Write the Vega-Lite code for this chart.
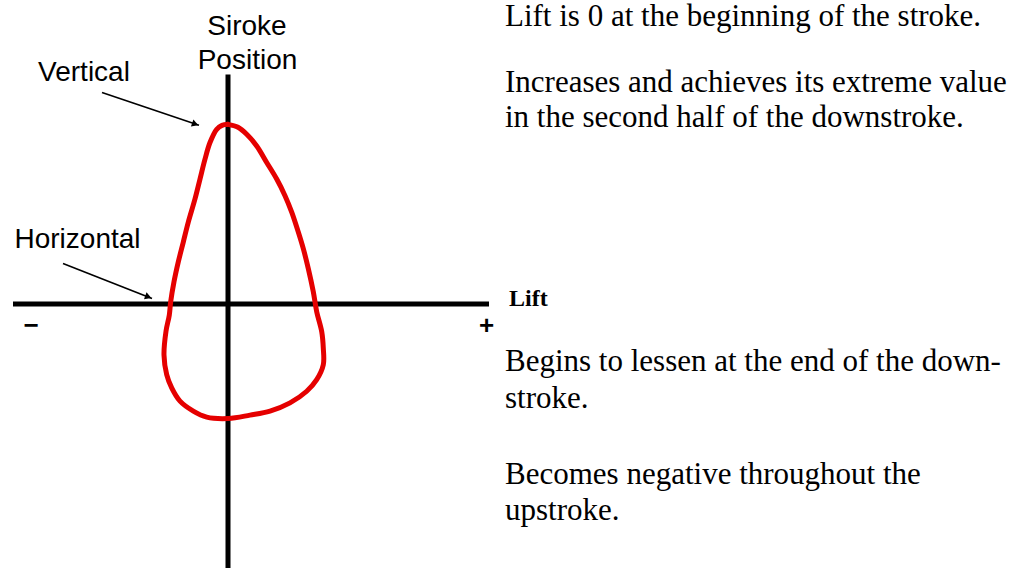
{
  "$schema": "https://vega.github.io/schema/vega-lite/v6.json",
  "width": 1027,
  "height": 571,
  "autosize": {"type": "fit", "contains": "padding"},
  "padding": 0,
  "background": "white",
  "config": {"view": {"stroke": null}},
  "datasets": {
    "loop": [
      {"i": 1, "lift": 0.0, "pos": 1.805},
      {"i": 2, "lift": 0.10, "pos": 1.775},
      {"i": 3, "lift": 0.187, "pos": 1.705},
      {"i": 4, "lift": 0.287, "pos": 1.588},
      {"i": 5, "lift": 0.387, "pos": 1.422},
      {"i": 6, "lift": 0.487, "pos": 1.255},
      {"i": 7, "lift": 0.57, "pos": 1.088},
      {"i": 8, "lift": 0.637, "pos": 0.922},
      {"i": 9, "lift": 0.703, "pos": 0.722},
      {"i": 10, "lift": 0.753, "pos": 0.555},
      {"i": 11, "lift": 0.803, "pos": 0.355},
      {"i": 12, "lift": 0.853, "pos": 0.122},
      {"i": 13, "lift": 0.887, "pos": -0.078},
      {"i": 14, "lift": 0.937, "pos": -0.278},
      {"i": 15, "lift": 0.953, "pos": -0.445},
      {"i": 16, "lift": 0.953, "pos": -0.612},
      {"i": 17, "lift": 0.887, "pos": -0.762},
      {"i": 18, "lift": 0.787, "pos": -0.878},
      {"i": 19, "lift": 0.62, "pos": -0.995},
      {"i": 20, "lift": 0.42, "pos": -1.078},
      {"i": 21, "lift": 0.22, "pos": -1.118},
      {"i": 22, "lift": 0.003, "pos": -1.152},
      {"i": 23, "lift": -0.213, "pos": -1.138},
      {"i": 24, "lift": -0.347, "pos": -1.078},
      {"i": 25, "lift": -0.48, "pos": -0.978},
      {"i": 26, "lift": -0.563, "pos": -0.845},
      {"i": 27, "lift": -0.613, "pos": -0.712},
      {"i": 28, "lift": -0.64, "pos": -0.515},
      {"i": 29, "lift": -0.62, "pos": -0.275},
      {"i": 30, "lift": -0.587, "pos": -0.112},
      {"i": 31, "lift": -0.573, "pos": 0.022},
      {"i": 32, "lift": -0.54, "pos": 0.222},
      {"i": 33, "lift": -0.497, "pos": 0.422},
      {"i": 34, "lift": -0.447, "pos": 0.622},
      {"i": 35, "lift": -0.397, "pos": 0.822},
      {"i": 36, "lift": -0.33, "pos": 1.055},
      {"i": 37, "lift": -0.28, "pos": 1.255},
      {"i": 38, "lift": -0.23, "pos": 1.455},
      {"i": 39, "lift": -0.18, "pos": 1.622},
      {"i": 40, "lift": -0.113, "pos": 1.755},
      {"i": 41, "lift": -0.06, "pos": 1.795},
      {"i": 42, "lift": 0.0, "pos": 1.805}
    ],
    "axes": [
      {"name": "lift", "x1": -2.15, "x2": 2.61, "y1": 0, "y2": 0},
      {"name": "position", "x1": 0, "x2": 0, "y1": 2.305, "y2": -2.655}
    ],
    "pointers": [
      {"name": "Vertical", "x1": -1.26, "y1": 2.125, "x2": -0.29, "y2": 1.795, "hx": -0.328, "hy": 1.808},
      {"name": "Horizontal", "x1": -1.65, "y1": 0.405, "x2": -0.76, "y2": 0.055, "hx": -0.797, "hy": 0.07}
    ],
    "sansLabels": [
      {"text": "Siroke", "x": 0.19, "y": 2.705},
      {"text": "Position", "x": 0.195, "y": 2.365},
      {"text": "Vertical", "x": -1.44, "y": 2.245},
      {"text": "Horizontal", "x": -1.505, "y": 0.565}
    ],
    "signs": [
      {"text": "−", "x": -1.97, "y": -0.305},
      {"text": "+", "x": 2.585, "y": -0.305}
    ],
    "axisName": [
      {"text": "Lift", "x": 2.81, "y": -0.025}
    ],
    "notes": [
      {"text": "Lift is 0 at the beginning of the stroke.", "x": 2.77, "y": 2.795},
      {"text": "Increases and achieves its extreme value", "x": 2.77, "y": 2.135},
      {"text": "in the second half of the downstroke.", "x": 2.77, "y": 1.775},
      {"text": "Begins to lessen at the end of the down-", "x": 2.77, "y": -0.675},
      {"text": "stroke.", "x": 2.77, "y": -1.045},
      {"text": "Becomes negative throughout the", "x": 2.77, "y": -1.815},
      {"text": "upstroke.", "x": 2.77, "y": -2.175}
    ]
  },
  "resolve": {"scale": {"x": "shared", "y": "shared"}},
  "layer": [
    {
      "data": {"name": "axes"},
      "mark": {"type": "rule", "color": "black", "strokeWidth": 5},
      "encoding": {
        "x": {"field": "x1", "type": "quantitative", "scale": {"domain": [-2.28, 7.99], "nice": false, "zero": false}, "axis": null},
        "x2": {"field": "x2"},
        "y": {"field": "y1", "type": "quantitative", "scale": {"domain": [-2.655, 3.055], "nice": false, "zero": false}, "axis": null},
        "y2": {"field": "y2"}
      }
    },
    {
      "data": {"name": "loop"},
      "mark": {"type": "line", "color": "#e50000", "strokeWidth": 5, "interpolate": "catmull-rom", "strokeJoin": "round", "strokeCap": "round"},
      "encoding": {
        "x": {"field": "lift", "type": "quantitative"},
        "y": {"field": "pos", "type": "quantitative"},
        "order": {"field": "i", "type": "quantitative"}
      }
    },
    {
      "data": {"name": "pointers"},
      "mark": {"type": "rule", "color": "black", "strokeWidth": 1.6},
      "encoding": {
        "x": {"field": "x1", "type": "quantitative"},
        "x2": {"field": "x2"},
        "y": {"field": "y1", "type": "quantitative"},
        "y2": {"field": "y2"}
      }
    },
    {
      "data": {"name": "pointers"},
      "mark": {"type": "point", "shape": "triangle-right", "filled": true, "color": "black", "size": 55, "angle": 20, "opacity": 1},
      "encoding": {
        "x": {"field": "hx", "type": "quantitative"},
        "y": {"field": "hy", "type": "quantitative"}
      }
    },
    {
      "data": {"name": "sansLabels"},
      "mark": {"type": "text", "font": "Liberation Sans", "fontSize": 28, "align": "center", "baseline": "alphabetic", "color": "black"},
      "encoding": {
        "x": {"field": "x", "type": "quantitative"},
        "y": {"field": "y", "type": "quantitative"},
        "text": {"field": "text"}
      }
    },
    {
      "data": {"name": "signs"},
      "mark": {"type": "text", "font": "Liberation Sans", "fontSize": 26, "fontWeight": "bold", "align": "center", "baseline": "alphabetic", "color": "black"},
      "encoding": {
        "x": {"field": "x", "type": "quantitative"},
        "y": {"field": "y", "type": "quantitative"},
        "text": {"field": "text"}
      }
    },
    {
      "data": {"name": "axisName"},
      "mark": {"type": "text", "font": "Liberation Serif", "fontSize": 24, "fontWeight": "bold", "align": "left", "baseline": "alphabetic", "color": "black"},
      "encoding": {
        "x": {"field": "x", "type": "quantitative"},
        "y": {"field": "y", "type": "quantitative"},
        "text": {"field": "text"}
      }
    },
    {
      "data": {"name": "notes"},
      "mark": {"type": "text", "font": "Liberation Serif", "fontSize": 31, "align": "left", "baseline": "alphabetic", "color": "black"},
      "encoding": {
        "x": {"field": "x", "type": "quantitative"},
        "y": {"field": "y", "type": "quantitative"},
        "text": {"field": "text"}
      }
    }
  ]
}
